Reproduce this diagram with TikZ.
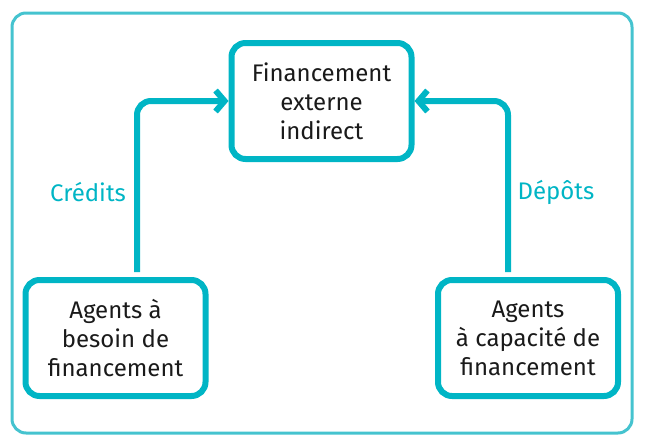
\documentclass[tikz,border=0pt]{standalone}
\usepackage{fontspec}
\setmainfont{Fira Sans}
\usetikzlibrary{arrows.meta}
\definecolor{boxteal}{HTML}{00B5C5}
\definecolor{frameteal}{HTML}{45C3CF}
\definecolor{txt}{HTML}{1A1A1A}
\begin{document}
\begin{tikzpicture}[x=1pt,y=-1pt,
  agentbox/.style={draw=boxteal, line width=6pt, rounded corners=14pt,
    minimum width=180pt, minimum height=116pt, align=center, inner sep=0pt,
    text=txt, font=\fontsize{24}{29}\selectfont},
  flow/.style={draw=boxteal, line width=6pt, rounded corners=14pt,
    -{Straight Barb[length=9pt,width=21pt]}},
  lab/.style={text=boxteal, font=\fontsize{24}{28}\selectfont}]
\useasboundingbox (0,0) rectangle (645,439);
\draw[frameteal, line width=3pt, rounded corners=14pt] (12,13) rectangle (632,433);
\node[agentbox] (top) at (321.5,101) {Financement\\externe\\indirect};
\node[agentbox] (left) at (115.5,338) {Agents à\\besoin de\\financement};
\node[agentbox] (right) at (528,338) {Agents\\à capacité de\\financement};
\coordinate (ls) at (137,272);
\coordinate (rs) at (508,272);
\draw[flow] (ls) |- (top.west);
\draw[flow] (rs) |- (top.east);
\node[lab] (cred) at (88,192) {Crédits};
\node[lab] (dep) at (556,192) {Dépôts};
\end{tikzpicture}
\end{document}
